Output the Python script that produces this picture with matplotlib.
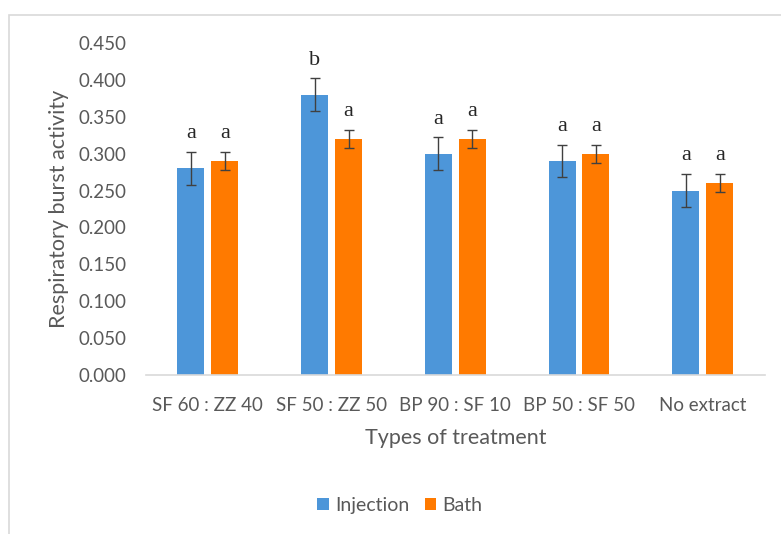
import matplotlib

matplotlib.use("Agg")
import matplotlib.pyplot as plt
import numpy as np
from matplotlib.patches import Rectangle

plt.rcParams["font.family"] = ["Lato", "DejaVu Sans"]

treatments = ["SF 60 : ZZ 40", "SF 50 : ZZ 50", "BP 90 : SF 10", "BP 50 : SF 50", "No extract"]
injection = [0.28, 0.38, 0.30, 0.29, 0.25]
injection_err = [0.022, 0.022, 0.022, 0.022, 0.022]
bath = [0.29, 0.32, 0.32, 0.30, 0.26]
bath_err = [0.012, 0.012, 0.012, 0.012, 0.012]
inj_letters = ["a", "b", "a", "a", "a"]
bath_letters = ["a", "a", "a", "a", "a"]

BLUE = "#4d96d9"
ORANGE = "#ff7a00"
GRAY = "#595959"

fig = plt.figure(figsize=(7.81, 5.34), dpi=100)
# chart frame
fig.patches.append(Rectangle((9 / 781, -0.02), 1.0, 1.02 - 15 / 534, transform=fig.transFigure,
                             fill=False, edgecolor="#d9d9d9", lw=1.2))
ax = fig.add_axes([0.187, 0.2978, 0.792, 0.6217])

x = np.arange(len(treatments))
w = 0.218
off = 0.137
ekw = dict(ecolor="#404040", elinewidth=1, capsize=3.5, capthick=1)
ax.bar(x - off, injection, w, color=BLUE, yerr=injection_err, error_kw=ekw, label="Injection")
ax.bar(x + off, bath, w, color=ORANGE, yerr=bath_err, error_kw=ekw, label="Bath")

for i in range(len(x)):
    ax.text(x[i] - off, injection[i] + injection_err[i] + 0.012, inj_letters[i],
            ha="center", va="bottom", fontsize=16, family="Liberation Serif", color="#262626")
    ax.text(x[i] + off, bath[i] + bath_err[i] + 0.012, bath_letters[i],
            ha="center", va="bottom", fontsize=16, family="Liberation Serif", color="#262626")

ax.set_xlim(-0.5, len(x) - 0.5)
ax.set_ylim(0, 0.45)
ax.set_yticks(np.arange(0, 0.451, 0.05))
ax.set_yticklabels([f"{v:.3f}" for v in np.arange(0, 0.451, 0.05)])
ax.set_xticks(x)
ax.set_xticklabels(treatments)
ax.tick_params(axis="both", length=0, labelsize=13.5, colors=GRAY)
ax.tick_params(axis="x", pad=16)
ax.tick_params(axis="y", pad=14)
for s in ["top", "right", "left"]:
    ax.spines[s].set_visible(False)
ax.spines["bottom"].set_color("#d9d9d9")
ax.spines["bottom"].set_linewidth(1.2)

ax.set_xlabel("Types of treatment", fontsize=15.5, color=GRAY, labelpad=10)
ax.set_ylabel("Respiratory burst activity", fontsize=15.5, color=GRAY, labelpad=7)

ax.legend(loc="upper center", bbox_to_anchor=(0.41, -0.315), ncol=2, frameon=False,
          fontsize=14, labelcolor=GRAY, handlelength=0.6, handleheight=0.6,
          handletextpad=0.3, columnspacing=0.8)

fig.savefig("out.png", dpi=100)
